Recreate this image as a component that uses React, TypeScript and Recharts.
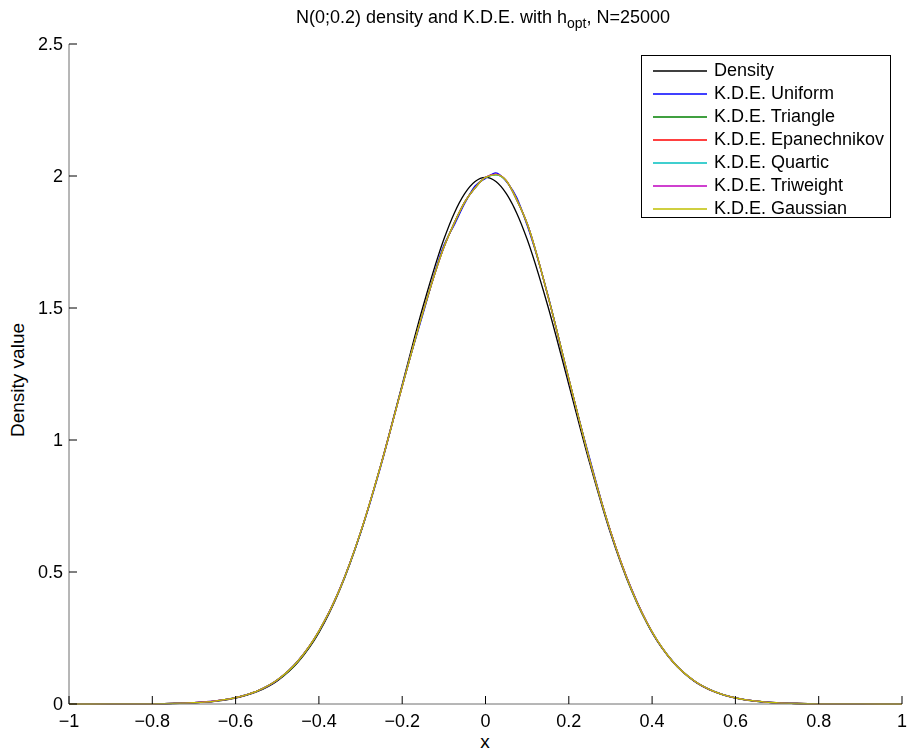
import { LineChart, Line, XAxis, YAxis, Legend } from "recharts";

// sample positions along x
const xValues = [
  -1, -0.9, -0.8, -0.75, -0.7, -0.65, -0.6, -0.55, -0.5, -0.45, -0.4, -0.35, -0.3, -0.25,
  -0.2, -0.15, -0.1, -0.075, -0.05, -0.025, 0, 0.025, 0.05, 0.075, 0.1, 0.15, 0.2, 0.25,
  0.3, 0.35, 0.4, 0.45, 0.5, 0.55, 0.6, 0.65, 0.7, 0.75, 0.8, 0.9, 1,
];

const density = [
  0, 0.0001, 0.0007, 0.0018, 0.0044, 0.0101, 0.0222, 0.0455, 0.0876, 0.1587, 0.27, 0.4314,
  0.6476, 0.9132, 1.2099, 1.5057, 1.7603, 1.8593, 1.9333, 1.9792, 1.9947, 1.9792, 1.9333,
  1.8593, 1.7603, 1.5057, 1.2099, 0.9132, 0.6476, 0.4314, 0.27, 0.1587, 0.0876, 0.0455,
  0.0222, 0.0101, 0.0044, 0.0018, 0.0007, 0.0001, 0,
];

const kdeUniform = [
  0, 0.0001, 0.0009, 0.0021, 0.0052, 0.0115, 0.0245, 0.0478, 0.0905, 0.1645, 0.2745, 0.4365,
  0.648, 0.908, 1.206, 1.478, 1.738, 1.815, 1.896, 1.962, 1.991, 2.012, 1.979, 1.918, 1.813,
  1.548, 1.228, 0.931, 0.652, 0.438, 0.271, 0.1615, 0.088, 0.047, 0.0228, 0.0108, 0.0045,
  0.002, 0.0006, 0.0001, 0,
];

const kdeTriangle = [
  0, 0.0001, 0.0008, 0.002, 0.0049, 0.0111, 0.0238, 0.0479, 0.0908, 0.1628, 0.2752, 0.4345,
  0.6495, 0.9115, 1.2035, 1.4835, 1.7305, 1.8215, 1.9005, 1.9555, 1.9945, 2.0055, 1.9815,
  1.9095, 1.8195, 1.5455, 1.2325, 0.9255, 0.6545, 0.4355, 0.2725, 0.1602, 0.0888, 0.0466,
  0.0229, 0.0104, 0.0046, 0.0019, 0.0007, 0.0001, 0,
];

const kdeEpanechnikov = [
  0, 0.0001, 0.0008, 0.002, 0.005, 0.0112, 0.0241, 0.0482, 0.0912, 0.1632, 0.2758, 0.4352,
  0.6502, 0.9122, 1.2028, 1.4842, 1.7292, 1.8222, 1.9012, 1.9552, 1.9952, 2.0062, 1.9822,
  1.9102, 1.8202, 1.5442, 1.2318, 0.9248, 0.6552, 0.4362, 0.2728, 0.1598, 0.0892, 0.0464,
  0.0231, 0.0105, 0.0046, 0.0019, 0.0007, 0.0001, 0,
];

const kdeQuartic = [
  0, 0.0001, 0.0008, 0.002, 0.005, 0.0112, 0.024, 0.048, 0.091, 0.163, 0.2762, 0.4348,
  0.6498, 0.9118, 1.2032, 1.4848, 1.7298, 1.8218, 1.9008, 1.9548, 1.9948, 2.0048, 1.9818,
  1.9098, 1.8198, 1.5448, 1.2322, 0.9252, 0.6548, 0.4358, 0.2732, 0.16, 0.089, 0.0465,
  0.023, 0.0105, 0.0046, 0.0019, 0.0007, 0.0001, 0,
];

const kdeTriweight = [
  0, 0.0001, 0.0008, 0.002, 0.005, 0.0113, 0.0241, 0.0481, 0.0911, 0.1631, 0.2765, 0.4351,
  0.6501, 0.9121, 1.2031, 1.4851, 1.7301, 1.8221, 1.9011, 1.9551, 1.9951, 2.0071, 1.9821,
  1.9101, 1.8201, 1.5451, 1.2321, 0.9251, 0.6551, 0.4361, 0.2731, 0.1601, 0.0891, 0.0465,
  0.023, 0.0105, 0.0046, 0.0019, 0.0007, 0.0001, 0,
];

const kdeGaussian = [
  0, 0.0001, 0.0008, 0.002, 0.005, 0.0112, 0.024, 0.048, 0.091, 0.163, 0.276, 0.435, 0.65,
  0.912, 1.203, 1.485, 1.73, 1.822, 1.901, 1.955, 1.995, 2.005, 1.982, 1.91, 1.82, 1.545,
  1.232, 0.925, 0.655, 0.436, 0.273, 0.16, 0.089, 0.0465, 0.023, 0.0105, 0.0046, 0.0019,
  0.0007, 0.0001, 0,
];

const xTicks = [-1, -0.8, -0.6, -0.4, -0.2, 0, 0.2, 0.4, 0.6, 0.8, 1];
const yTicks = [0, 0.5, 1, 1.5, 2, 2.5];

const seriesList = [
  { key: "density", name: "Density", color: "#000000", values: density },
  { key: "uniform", name: "K.D.E. Uniform", color: "#0000ff", values: kdeUniform },
  { key: "triangle", name: "K.D.E. Triangle", color: "#008000", values: kdeTriangle },
  { key: "epan", name: "K.D.E. Epanechnikov", color: "#ff0000", values: kdeEpanechnikov },
  { key: "quartic", name: "K.D.E. Quartic", color: "#00bfbf", values: kdeQuartic },
  { key: "triweight", name: "K.D.E. Triweight", color: "#bf00bf", values: kdeTriweight },
  { key: "gaussian", name: "K.D.E. Gaussian", color: "#bfbf00", values: kdeGaussian },
];

const FONT = "'Liberation Sans', Arial, Helvetica, sans-serif";

const fmt = (v: number) => (v < 0 ? "\u2212" + String(-v) : String(v));

// ticks point inward, labels outside (matlab style)
const XTick = ({ x, y, payload }: any) => (
  <g>
    <line x1={x} y1={y} x2={x} y2={y - 8} stroke="#000" strokeWidth={1} />
    <text x={x} y={y + 23} textAnchor="middle" fontSize={18} fontFamily={FONT} fill="#000">
      {fmt(payload.value)}
    </text>
  </g>
);

const YTick = ({ x, y, payload }: any) => (
  <g>
    <line x1={x} y1={y} x2={x + 8} y2={y} stroke="#000" strokeWidth={1} />
    <text x={x - 6} y={y + 6} textAnchor="end" fontSize={18} fontFamily={FONT} fill="#000">
      {fmt(payload.value)}
    </text>
  </g>
);

const LegendBox = () => (
  <div
    style={{
      width: 250,
      height: 163,
      border: "1px solid #000",
      background: "#fff",
      fontFamily: FONT,
      fontSize: 18,
      paddingTop: 3,
      boxSizing: "border-box",
    }}
  >
    {seriesList.map((s) => (
      <div key={s.key} style={{ display: "flex", alignItems: "center", height: 23 }}>
        <svg width={72} height={23} style={{ flexShrink: 0 }}>
          <line x1={11} y1={12} x2={65} y2={12} stroke={s.color} strokeWidth={1.5} />
        </svg>
        <span style={{ lineHeight: "23px", color: "#000" }}>{s.name}</span>
      </div>
    ))}
  </div>
);

export default function App() {
  const data = xValues.map((x, i) => {
    const row: any = { x };
    seriesList.forEach((s) => {
      row[s.key] = s.values[i];
    });
    return row;
  });

  return (
    <div style={{ position: "fixed", left: 0, top: 0, width: 911, height: 753, background: "#fff" }}>
      <div
        style={{
          position: "absolute",
          left: 0,
          width: 966,
          top: 7,
          textAlign: "center",
          fontFamily: FONT,
          fontSize: 18,
          lineHeight: "20px",
        }}
      >
        N(0;0.2) density and K.D.E. with h<sub style={{ fontSize: 14 }}>opt</sub>, N=25000
      </div>
      <div
        style={{
          position: "absolute",
          left: 18,
          top: 380,
          transform: "translate(-50%, -50%) rotate(-90deg)",
          fontFamily: FONT,
          fontSize: 19,
          whiteSpace: "nowrap",
        }}
      >
        Density value
      </div>
      <div
        style={{
          position: "absolute",
          left: 485,
          top: 742,
          transform: "translate(-50%, -50%)",
          fontFamily: FONT,
          fontSize: 19,
        }}
      >
        x
      </div>
      <div style={{ position: "absolute", left: 0, top: 0 }}>
        <LineChart width={911} height={753} data={data} margin={{ top: 44, right: 9, left: 29, bottom: 19 }}>
          <XAxis
            dataKey="x"
            type="number"
            domain={[-1, 1]}
            ticks={xTicks}
            height={30}
            tickSize={0}
            tickMargin={0}
            tick={<XTick />}
            stroke="#6e6e6e"
            interval={0}
          />
          <YAxis
            type="number"
            domain={[0, 2.5]}
            ticks={yTicks}
            width={40}
            tickSize={0}
            tickMargin={0}
            tick={<YTick />}
            stroke="#6e6e6e"
            interval={0}
          />
          <Legend
            layout="horizontal"
            verticalAlign="middle"
            align="center"
            wrapperStyle={{ left: 641, top: 55, width: 252, height: 165 }}
            content={() => <LegendBox />}
          />
          {seriesList.map((s) => (
            <Line
              key={s.key}
              dataKey={s.key}
              name={s.name}
              type="monotone"
              stroke={s.color}
              strokeWidth={1.3}
              dot={false}
              activeDot={false}
              isAnimationActive={false}
            />
          ))}
        </LineChart>
      </div>
    </div>
  );
}
